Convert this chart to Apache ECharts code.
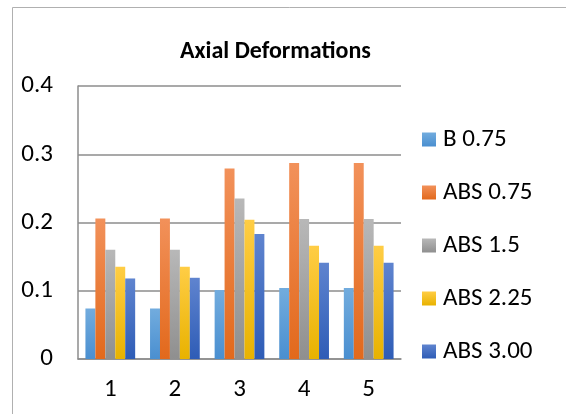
<!DOCTYPE html>
<html>
<head>
<meta charset="utf-8">
<style>
  html, body { margin: 0; padding: 0; background: #ffffff; }
  #chart { width: 566px; height: 414px; }
</style>
<script src="https://cdn.jsdelivr.net/npm/echarts@6/dist/echarts.min.js"></script>
</head>
<body>
<div id="chart"></div>
<script>
// Categories along the x axis
const categories = ['1', '2', '3', '4', '5'];

// Series names and values
const seriesNames = ['B 0.75', 'ABS 0.75', 'ABS 1.5', 'ABS 2.25', 'ABS 3.00'];
const b075   = [0.074, 0.074, 0.101, 0.104, 0.104];
const abs075 = [0.206, 0.206, 0.279, 0.287, 0.287];
const abs150 = [0.160, 0.160, 0.235, 0.205, 0.205];
const abs225 = [0.135, 0.135, 0.204, 0.166, 0.166];
const abs300 = [0.118, 0.119, 0.183, 0.141, 0.141];
const seriesValues = [b075, abs075, abs150, abs225, abs300];

// Y axis scale
const yMin = 0, yMax = 0.4, yStep = 0.1;

// Top / bottom colours of each bar gradient
const shades = [
  ['#72acde', '#4a8fd0'],
  ['#f2915a', '#e2691c'],
  ['#b8b8b8', '#8f8f8f'],
  ['#ffcd45', '#e8b200'],
  ['#5f84cf', '#2e5cb6']
];

const FONT = 'Carlito, Lato, "Liberation Sans", sans-serif';

function grad(c) {
  return new echarts.graphic.LinearGradient(0, 0, 0, 1, [
    { offset: 0, color: c[0] },
    { offset: 1, color: c[1] }
  ]);
}

const chart = echarts.init(document.getElementById('chart'), null, { renderer: 'canvas' });

chart.setOption({
  animation: false,
  backgroundColor: '#ffffff',
  title: {
    text: 'Axial Deformations',
    left: 175,
    top: 35,
    textStyle: { fontFamily: FONT, fontSize: 24, fontWeight: 'bold', color: '#000000' }
  },
  graphic: [{
    type: 'rect',
    shape: { x: 12.5, y: 7.5, width: 700, height: 600 },
    style: { fill: null, stroke: '#b0b0b0', lineWidth: 1 },
    silent: true
  }],
  legend: {
    orient: 'vertical',
    left: 417,
    top: 122,
    itemWidth: 14,
    itemHeight: 14,
    itemGap: 28,
    icon: 'rect',
    textStyle: { fontFamily: FONT, fontSize: 25, color: '#000000', lineHeight: 25, padding: [0, 0, 0, 2] },
    data: seriesNames
  },
  grid: { left: 78, top: 86, right: 165, bottom: 55, containLabel: false },
  xAxis: {
    type: 'category',
    data: categories,
    axisLine: { show: true, lineStyle: { color: '#8c8c8c', width: 1.5 } },
    axisTick: { show: false },
    axisLabel: { fontFamily: FONT, fontSize: 25, color: '#000000', margin: 18 },
    splitLine: { show: false }
  },
  yAxis: {
    type: 'value',
    min: yMin,
    max: yMax,
    interval: yStep,
    axisLine: { show: true, lineStyle: { color: '#8c8c8c', width: 1.5 } },
    axisTick: { show: false },
    axisLabel: { fontFamily: FONT, fontSize: 25, color: '#000000', margin: 25 },
    splitLine: { show: true, lineStyle: { color: '#8c8c8c', width: 1.5 } }
  },
  series: seriesNames.map((name, i) => ({
    name: name,
    type: 'bar',
    data: seriesValues[i],
    barGap: '0%',
    barCategoryGap: '23%',
    itemStyle: { color: grad(shades[i]) }
  }))
});
</script>
</body>
</html>
